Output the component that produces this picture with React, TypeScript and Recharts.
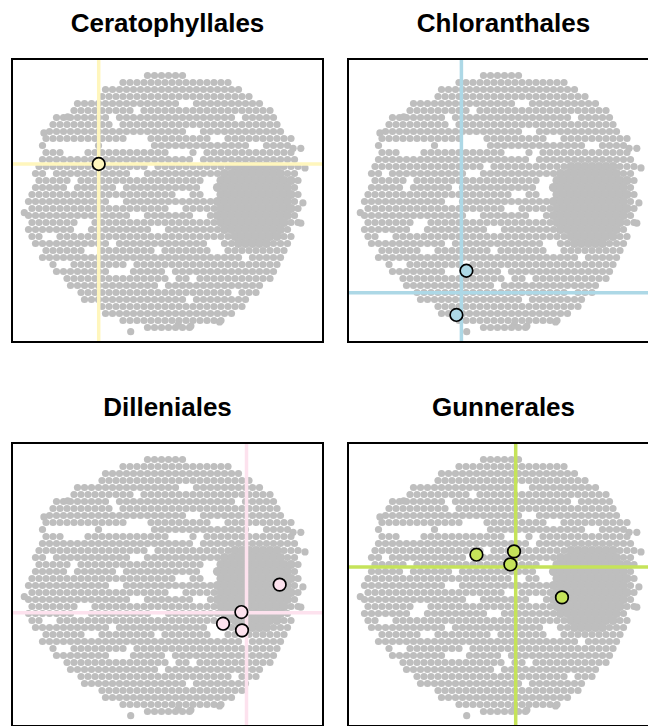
import React from "react";
import { ScatterChart, Scatter, XAxis, YAxis } from "recharts";

// background cloud (same ordination in every panel), read off the picture as a
// density map: one [first, last] column span per row, rows top to bottom
const CLOUD_ROWS: [number, number][] = [
  [17, 22], [13, 28], [11, 30], [10, 31], [7, 33], [6, 34], [4, 35], [3, 35], [3, 36], [2, 37],
  [2, 37], [2, 37], [2, 38], [1, 38], [1, 38], [1, 38], [1, 38], [0, 38], [0, 38], [0, 38],
  [0, 38], [0, 38], [0, 37], [0, 37], [1, 37], [2, 36], [2, 36], [3, 35], [4, 35], [5, 34],
  [6, 33], [7, 32], [8, 31], [10, 30], [11, 29], [13, 27], [17, 23],
];

// white holes inside the cloud: [col0, col1, row0, row1]
const CLOUD_GAPS: number[][] = [
  // the thin curved band through the upper left
  [3, 9, 10, 10], [5, 7, 11, 11], [11, 17, 10, 10], [14, 16, 9, 9], [20, 22, 11, 11],
  // small specks
  [12, 12, 6, 7], [15, 15, 5, 5], [22, 23, 4, 4], [23, 24, 8, 8], [26, 27, 9, 9],
  [30, 30, 6, 6], [32, 33, 10, 10], [24, 24, 11, 12], [25, 26, 15, 17], [7, 8, 21, 22],
  [15, 16, 20, 20], [14, 14, 27, 28], [2, 3, 23, 23], [12, 12, 24, 24], [18, 18, 25, 25],
  [4, 5, 27, 27], [20, 21, 19, 19], [24, 25, 20, 20], [26, 27, 24, 25], [20, 20, 28, 29],
  [31, 31, 26, 26], [23, 23, 29, 29], [32, 32, 24, 24], [29, 29, 31, 31], [12, 13, 18, 18],
  [15, 16, 14, 14], [18, 19, 22, 22], [21, 22, 17, 17], [6, 6, 16, 16], [3, 3, 14, 14],
  [8, 9, 25, 25], [12, 13, 28, 28], [19, 19, 30, 30], [23, 23, 32, 32], [6, 6, 15, 15],
  [13, 13, 16, 16], [17, 17, 13, 13],
];

// the solid patch on the right side of the cloud, rows 13..24
const DENSE_FIRST_ROW = 13;
const DENSE_ROWS: [number, number][] = [
  [29, 35], [28, 36], [27, 37], [27, 37], [27, 37], [27, 37], [27, 37], [27, 37],
  [27, 36], [28, 36], [29, 35], [30, 34],
];

// stray points outside the main outline
const CLOUD_STRAYS = [
  { x: 37.8, y: 10.4 }, { x: 38.9, y: 10.4 }, { x: 39.5, y: 13.2 }, { x: 39.2, y: 18.2 },
  { x: 38.9, y: 21.1 }, { x: 21.4, y: 35.6 }, { x: 23.2, y: 35.8 }, { x: 5.6, y: 5.9 },
  { x: 2.2, y: 8.2 }, { x: 14.6, y: 36.6 }, { x: 27.3, y: 35.2 }, { x: -0.6, y: 19.6 },
];

// highlighted families per order
const CERATOPHYLLALES = [{ x: 10.03, y: 12.64 }];
const CHLORANTHALES = [{ x: 14.56, y: 27.89 }, { x: 13.13, y: 34.21 }];
const DILLENIALES = [
  { x: 35.88, y: 17.88 }, { x: 30.41, y: 21.79 }, { x: 27.79, y: 23.46 }, { x: 30.5, y: 24.41 },
];
const GUNNERALES = [
  { x: 15.99, y: 13.6 }, { x: 21.36, y: 13.13 }, { x: 20.84, y: 14.99 }, { x: 28.21, y: 19.7 },
];

const PANELS = [
  { title: "Ceratophyllales", points: CERATOPHYLLALES, color: "#fff6bd", left: 12, top: 59 },
  { title: "Chloranthales", points: CHLORANTHALES, color: "#add8e6", left: 348, top: 59 },
  { title: "Dilleniales", points: DILLENIALES, color: "#fde2ee", left: 12, top: 443 },
  { title: "Gunnerales", points: GUNNERALES, color: "#c5e35a", left: 348, top: 443 },
];

const W = 311;
const H = 283;
const CELL = 7;
const X_DOMAIN = [-16.5 / CELL, (W - 16.5) / CELL];
const Y_DOMAIN = [-16.5 / CELL, (H - 16.5) / CELL];

const inGap = (c: number, r: number) =>
  CLOUD_GAPS.some(([c0, c1, r0, r1]) => c >= c0 && c <= c1 && r >= r0 && r <= r1);

const isDense = (c: number, r: number) => {
  const span = DENSE_ROWS[r - DENSE_FIRST_ROW];
  return !!span && c >= span[0] && c <= span[1];
};

const cloud: { x: number; y: number; dense: boolean }[] = [];
CLOUD_ROWS.forEach(([a, b], r) => {
  for (let c = a; c <= b; c++) {
    if (inGap(c, r) && !isDense(c, r)) continue;
    cloud.push({ x: c + (r % 2 ? 0.5 : 0), y: r, dense: isDense(c, r) });
  }
});
CLOUD_STRAYS.forEach((p) => cloud.push({ ...p, dense: false }));

const grayDot = (props: any) => (
  <circle cx={props.cx} cy={props.cy} r={props.payload.dense ? 4.6 : 3.6} fill="#bebebe" />
);

const noDot = () => <g />;

function Panel({ title, points, color, left, top }: (typeof PANELS)[number]) {
  const mx = points.reduce((s, p) => s + p.x, 0) / points.length;
  const my = points.reduce((s, p) => s + p.y, 0) / points.length;
  const vLine = [{ x: mx, y: Y_DOMAIN[0] }, { x: mx, y: Y_DOMAIN[1] }];
  const hLine = [{ x: X_DOMAIN[0], y: my }, { x: X_DOMAIN[1], y: my }];
  const mark = (props: any) => (
    <circle cx={props.cx} cy={props.cy} r={6.3} fill={color} stroke="#000" strokeWidth={1.7} />
  );

  return (
    <>
      <div
        style={{
          position: "absolute",
          left,
          top: top - 49.3,
          width: W,
          textAlign: "center",
          font: "700 26px 'Liberation Sans', Arial, sans-serif",
          lineHeight: "26px",
          color: "#000",
        }}
      >
        {title}
      </div>
      <div style={{ position: "absolute", left, top, width: W, height: H }}>
        <ScatterChart width={W} height={H} margin={{ top: 0, right: 0, bottom: 0, left: 0 }}>
          <XAxis type="number" dataKey="x" domain={X_DOMAIN} hide />
          <YAxis type="number" dataKey="y" domain={Y_DOMAIN} reversed hide />
          <Scatter data={cloud} shape={grayDot} isAnimationActive={false} />
          <Scatter data={vLine} line={{ stroke: color, strokeWidth: 3.5 }} shape={noDot} isAnimationActive={false} />
          <Scatter data={hLine} line={{ stroke: color, strokeWidth: 3.5 }} shape={noDot} isAnimationActive={false} />
          <Scatter data={points} shape={mark} isAnimationActive={false} />
        </ScatterChart>
      </div>
      <div
        style={{
          position: "absolute",
          left: left - 1,
          top: top - 1,
          width: W + 2,
          height: H + 2,
          border: "2px solid #000",
          boxSizing: "border-box",
          pointerEvents: "none",
        }}
      />
    </>
  );
}

export default function App() {
  return (
    <div
      style={{
        position: "absolute",
        left: 0,
        top: 0,
        width: 648,
        height: 726,
        overflow: "hidden",
        background: "#fff",
      }}
    >
      {PANELS.map((p) => (
        <Panel key={p.title} {...p} />
      ))}
    </div>
  );
}
